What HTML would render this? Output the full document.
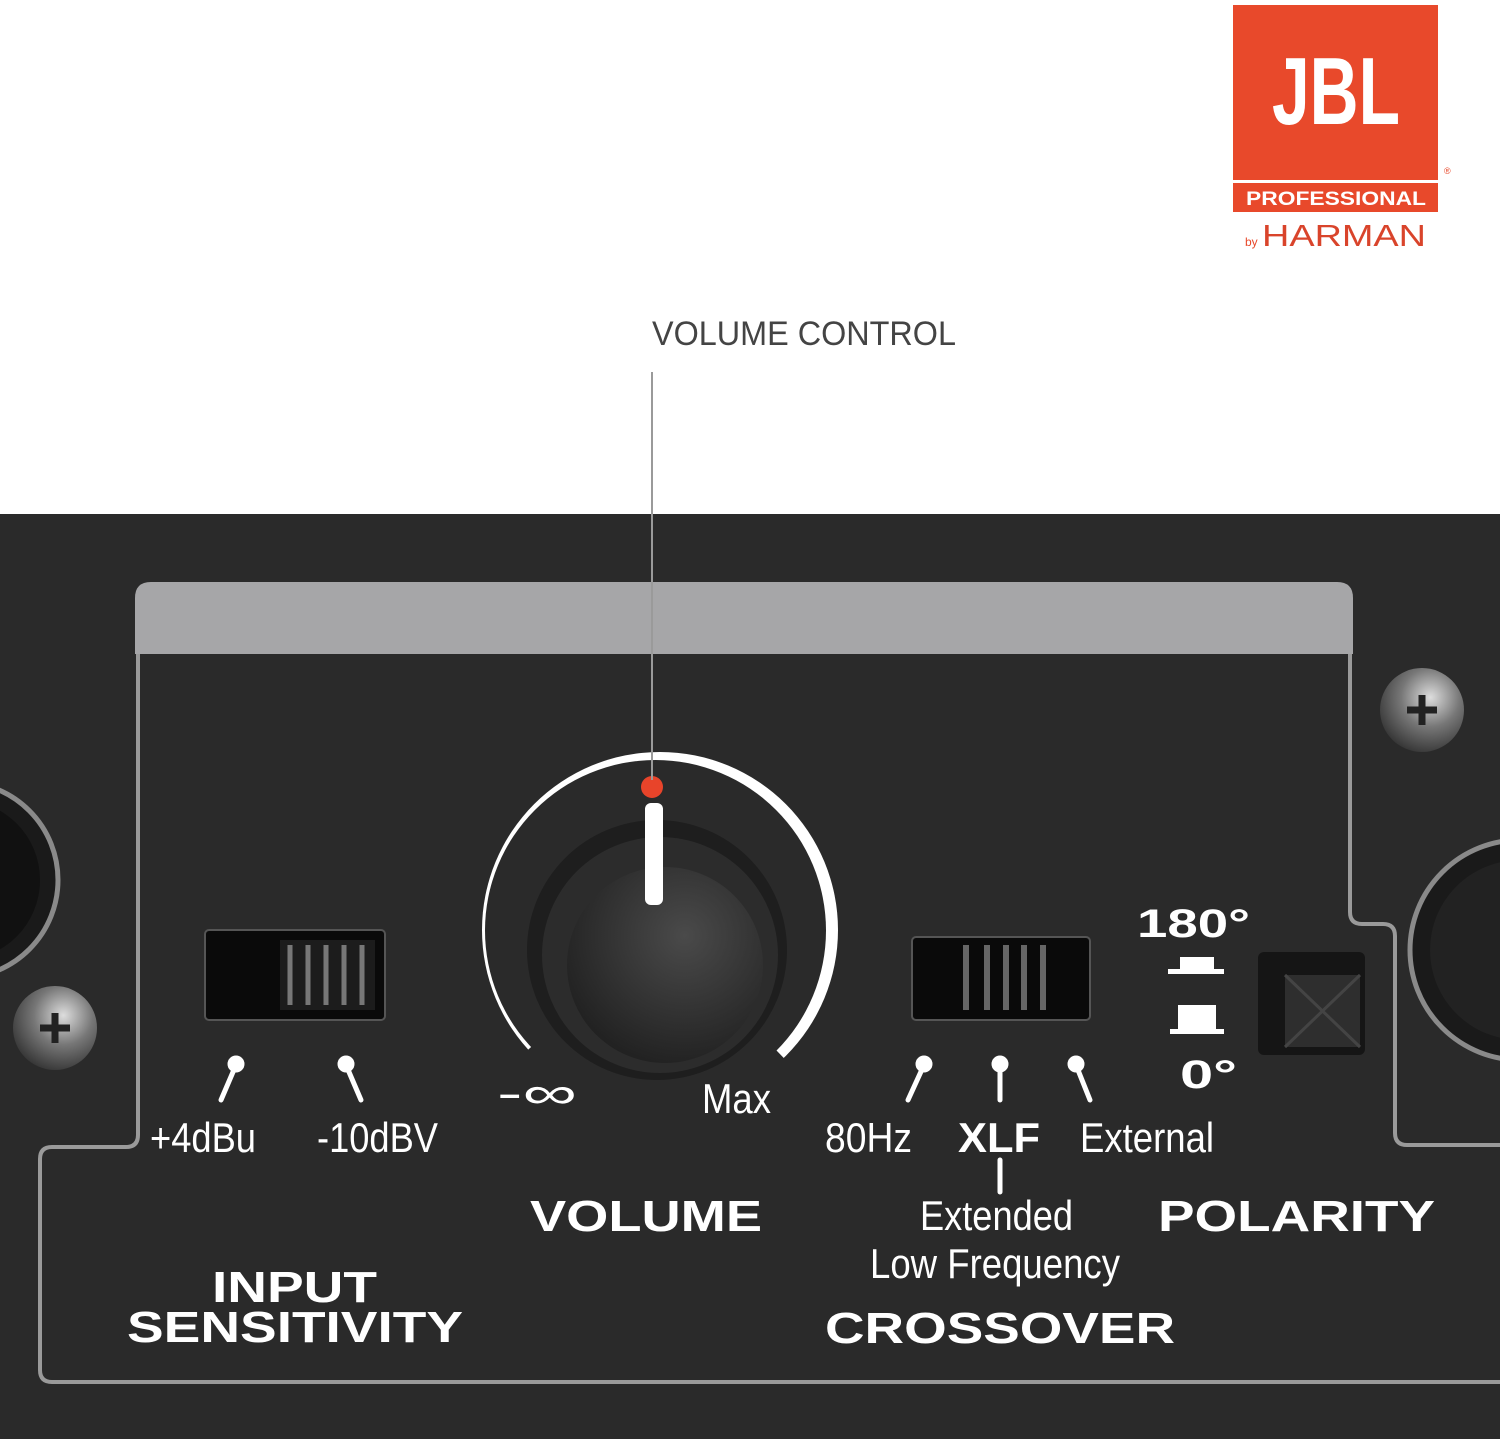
<!DOCTYPE html>
<html><head><meta charset="utf-8"><style>
html,body{margin:0;padding:0;background:#fff;}
svg{display:block;}
</style></head><body>
<svg width="1500" height="1439" viewBox="0 0 1500 1439" xmlns="http://www.w3.org/2000/svg">
<defs>
<radialGradient id="knob" cx="0.6" cy="0.35" r="0.7"><stop offset="0" stop-color="#4a4a4a"/><stop offset="1" stop-color="#202020"/></radialGradient>
<radialGradient id="screw" cx="0.6" cy="0.35" r="0.7"><stop offset="0" stop-color="#ddd"/><stop offset="0.5" stop-color="#777"/><stop offset="1" stop-color="#333"/></radialGradient>
<mask id="ringm">
<circle cx="660" cy="930" r="178" fill="#fff"/>
<circle cx="655.5" cy="930.5" r="170.5" fill="#000"/>
</mask>
<clipPath id="ringc"><polygon points="660,930 400,1166 300,1166 300,600 1000,600 1000,1174 896,1174"/></clipPath>
</defs>
<rect width="1500" height="1439" fill="#fff"/>
<!-- logo -->
<rect x="1233" y="5" width="205" height="175" fill="#e8492b"/>
<text x="1336" y="124" text-anchor="middle" font-family="Liberation Sans,sans-serif" font-weight="bold" font-size="96" fill="#fff" textLength="128" lengthAdjust="spacingAndGlyphs">JBL</text>
<rect x="1233" y="183" width="205" height="29" fill="#e8492b"/>
<text x="1336" y="205" text-anchor="middle" font-family="Liberation Sans,sans-serif" font-weight="bold" font-size="19" fill="#fff" textLength="180" lengthAdjust="spacingAndGlyphs">PROFESSIONAL</text>
<text x="1444" y="174" font-family="Liberation Sans,sans-serif" font-size="9" fill="#e8492b">®</text>
<text x="1245" y="246" font-family="Liberation Sans,sans-serif" font-size="12" fill="#e8492b">by</text>
<text x="1262" y="246" font-family="Liberation Sans,sans-serif" font-size="31" fill="#d9442b" textLength="164" lengthAdjust="spacingAndGlyphs">HARMAN</text>
<!-- title -->
<text x="652" y="345" font-family="Liberation Sans,sans-serif" font-size="34" fill="#444" textLength="304" lengthAdjust="spacingAndGlyphs">VOLUME CONTROL</text>
<!-- panel -->
<rect x="0" y="514" width="1500" height="925" fill="#2a2a2a"/>
<path d="M135,654 V598 Q135,582 151,582 H1337 Q1353,582 1353,598 V654 Z" fill="#a6a6a8"/>
<path d="M138,654 V1135 Q138,1147 126,1147 H52 Q40,1147 40,1159 V1370 Q40,1382 52,1382 H1500 M1350,654 V912 Q1350,924 1362,924 H1383 Q1395,924 1395,936 V1133 Q1395,1145 1407,1145 H1500" fill="none" stroke="#9a9a9a" stroke-width="4"/>
<!-- XLR left -->
<circle cx="-40" cy="880" r="98" fill="#1a1a1a" stroke="#8a8a8a" stroke-width="5"/>
<circle cx="-40" cy="880" r="80" fill="#111"/>
<circle cx="55" cy="1028" r="42" fill="url(#screw)"/>
<path d="M40,1028 H70 M55,1013 V1043" stroke="#222" stroke-width="7"/>
<!-- XLR right -->
<circle cx="1520" cy="950" r="110" fill="#1a1a1a" stroke="#8a8a8a" stroke-width="5"/>
<circle cx="1520" cy="950" r="90" fill="#222"/>
<circle cx="1422" cy="710" r="42" fill="url(#screw)"/>
<path d="M1407,710 H1437 M1422,695 V725" stroke="#222" stroke-width="7"/>
<!-- left switch -->
<rect x="205" y="930" width="180" height="90" rx="4" fill="#0a0a0a" stroke="#555" stroke-width="2"/>
<rect x="280" y="940" width="95" height="70" fill="#1c1c1c"/>
<g stroke="#777" stroke-width="5"><line x1="290" y1="945" x2="290" y2="1005"/><line x1="308" y1="945" x2="308" y2="1005"/><line x1="326" y1="945" x2="326" y2="1005"/><line x1="344" y1="945" x2="344" y2="1005"/><line x1="362" y1="945" x2="362" y2="1005"/></g>
<!-- right switch -->
<rect x="912" y="937" width="178" height="83" rx="4" fill="#0a0a0a" stroke="#555" stroke-width="2"/>
<g stroke="#666" stroke-width="6"><line x1="966" y1="945" x2="966" y2="1010"/><line x1="987" y1="945" x2="987" y2="1010"/><line x1="1006" y1="945" x2="1006" y2="1010"/><line x1="1024" y1="945" x2="1024" y2="1010"/><line x1="1043" y1="945" x2="1043" y2="1010"/></g>
<!-- polarity button -->
<rect x="1258" y="952" width="107" height="103" rx="6" fill="#151515"/>
<rect x="1285" y="975" width="75" height="72" fill="#2e2e2e"/>
<path d="M1285,975 L1360,1047 M1360,975 L1285,1047" stroke="#444" stroke-width="3"/>
<!-- knob -->
<g clip-path="url(#ringc)"><rect x="470" y="740" width="380" height="340" fill="#fff" mask="url(#ringm)"/></g>
<circle cx="657" cy="950" r="130" fill="#1e1e1e"/>
<circle cx="660" cy="955" r="118" fill="#2c2c2c"/>
<circle cx="665" cy="965" r="98" fill="url(#knob)"/>
<rect x="645" y="803" width="18" height="102" rx="6" fill="#fff"/>
<circle cx="652" cy="787" r="11" fill="#e8442a"/>
<line x1="652" y1="372" x2="652" y2="780" stroke="#9a9a9a" stroke-width="2"/>
<!-- pointer ticks -->
<g stroke="#fff" stroke-width="5" stroke-linecap="round" fill="#fff">
<line x1="236" y1="1065" x2="221" y2="1100"/><circle cx="236" cy="1064" r="6"/>
<line x1="346" y1="1065" x2="361" y2="1100"/><circle cx="346" cy="1064" r="6"/>
<line x1="924" y1="1065" x2="908" y2="1100"/><circle cx="924" cy="1064" r="6"/>
<line x1="1000" y1="1065" x2="1000" y2="1100"/><circle cx="1000" cy="1064" r="6"/>
<line x1="1076" y1="1065" x2="1090" y2="1100"/><circle cx="1076" cy="1064" r="6"/>
<line x1="1000" y1="1160" x2="1000" y2="1192"/>
</g>
<g font-family="Liberation Sans,sans-serif" fill="#fff">
<text x="150" y="1152" font-size="42" textLength="106" lengthAdjust="spacingAndGlyphs">+4dBu</text>
<text x="317" y="1152" font-size="42" textLength="121" lengthAdjust="spacingAndGlyphs">-10dBV</text>
<text x="497" y="1108" font-size="44" textLength="80" lengthAdjust="spacingAndGlyphs">-∞</text>
<text x="702" y="1113" font-size="42" textLength="69" lengthAdjust="spacingAndGlyphs">Max</text>
<text x="825" y="1152" font-size="42" textLength="87" lengthAdjust="spacingAndGlyphs">80Hz</text>
<text x="958" y="1152" font-size="42" font-weight="bold" textLength="82" lengthAdjust="spacingAndGlyphs">XLF</text>
<text x="1080" y="1152" font-size="42" textLength="134" lengthAdjust="spacingAndGlyphs">External</text>
<text x="920" y="1230" font-size="42" textLength="153" lengthAdjust="spacingAndGlyphs">Extended</text>
<text x="870" y="1278" font-size="42" textLength="250" lengthAdjust="spacingAndGlyphs">Low Frequency</text>
<text x="1137" y="937" font-size="40" font-weight="bold" textLength="113" lengthAdjust="spacingAndGlyphs">180°</text>
<text x="1180" y="1088" font-size="40" font-weight="bold" textLength="57" lengthAdjust="spacingAndGlyphs">0°</text>
<text x="530" y="1231" font-size="44" font-weight="bold" textLength="232" lengthAdjust="spacingAndGlyphs">VOLUME</text>
<text x="1158" y="1231" font-size="44" font-weight="bold" textLength="277" lengthAdjust="spacingAndGlyphs">POLARITY</text>
<text x="212" y="1302" font-size="44" font-weight="bold" textLength="165" lengthAdjust="spacingAndGlyphs">INPUT</text>
<text x="127" y="1342" font-size="44" font-weight="bold" textLength="336" lengthAdjust="spacingAndGlyphs">SENSITIVITY</text>
<text x="825" y="1343" font-size="44" font-weight="bold" textLength="350" lengthAdjust="spacingAndGlyphs">CROSSOVER</text>
</g>
<!-- polarity symbols -->
<g fill="#fff">
<rect x="1180" y="957" width="34" height="12"/><rect x="1168" y="969" width="56" height="5"/>
<rect x="1178" y="1005" width="38" height="24"/><rect x="1170" y="1029" width="54" height="5"/>
</g>
</svg>
</body></html>
